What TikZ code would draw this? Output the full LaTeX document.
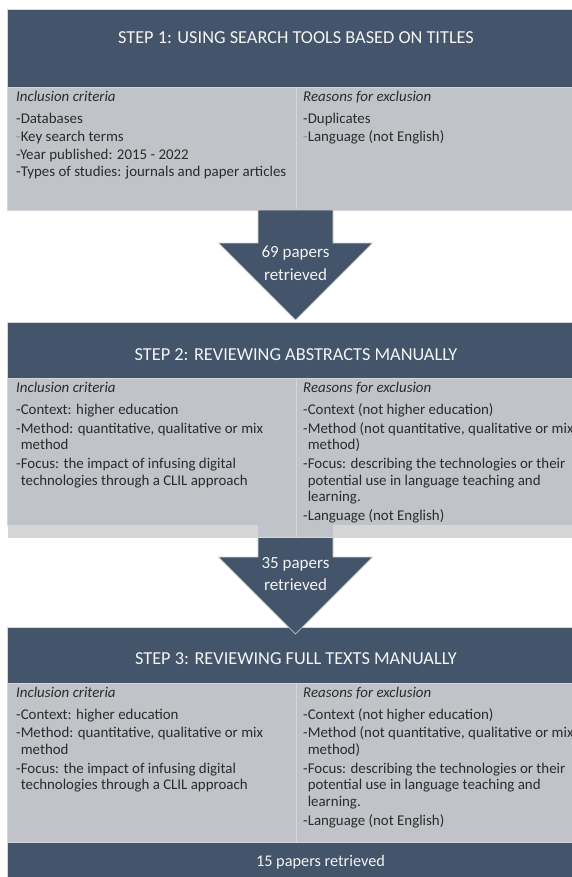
\documentclass[tikz,border=0pt]{standalone}
\usepackage{fontspec}
\setmainfont{Carlito}
\definecolor{hdr}{HTML}{44546A}
\definecolor{bodyg}{HTML}{C0C3C8}
\definecolor{stripg}{HTML}{D5D6D8}
\definecolor{txt}{HTML}{2B2B2B}
\definecolor{edgec}{HTML}{D3D6DA}
\definecolor{htxt}{HTML}{F4F4F4}
\definecolor{faint}{HTML}{8C8C8C}
\newcommand\hdgap{\\[5.4pt]}
\newcommand\nxt{\\[2.2pt]}
\newcommand\nxtone{\\[1pt]}
\newcommand\ind{\phantom{-}}
\begin{document}
\begin{tikzpicture}[x=1pt,y=-1pt,
  hdrbox/.style={fill=hdr,draw=edgec,line width=0.5pt},
  bodybox/.style={fill=bodyg,draw=edgec,line width=0.5pt},
  stripbox/.style={fill=stripg},
  divider/.style={draw=edgec,line width=0.8pt},
  hdrtext/.style={text=htxt,font=\fontsize{18.3}{22}\selectfont,inner sep=0pt,anchor=base},
  coltext/.style={text=txt,font=\fontsize{14.9}{16.6}\selectfont,inner sep=0pt,anchor=base west},
  arrowshape/.style={fill=hdr,draw=edgec,line width=0.6pt,line join=miter},
  arrtext/.style={text=htxt,font=\fontsize{17}{22}\selectfont,inner sep=0pt,anchor=base},
  bartext/.style={text=htxt,font=\fontsize{16.3}{20}\selectfont,inner sep=0pt,anchor=base},
]
\useasboundingbox (0,0) rectangle (572,877);
\clip (0,0) rectangle (572,877);
\fill[white] (0,0) rectangle (572,877);

% ---------- Step 1 ----------
\path[hdrbox] (7.5,9.5) rectangle (580,87);
\path[bodybox] (7.5,87) rectangle (580,210);
\draw[divider] (296,87.5) -- (296,209.5);
\node[hdrtext] (s1title) at (296,44) {STEP 1: USING SEARCH TOOLS BASED ON TITLES};
\node[coltext] (s1inc) at (16,102) {\parbox[t]{285pt}{\raggedright
  \textit{Inclusion criteria}\hdgap
  -Databases\nxtone
  \leavevmode{\color{faint}-}Key search terms\nxtone
  -Year published: 2015 - 2022\nxtone
  -Types of studies: journals and paper articles}};
\node[coltext] (s1exc) at (303,102) {\parbox[t]{285pt}{\raggedright
  \textit{Reasons for exclusion}\hdgap
  -Duplicates\nxtone
  \leavevmode{\color{faint}-}Language (not English)}};

% ---------- Arrow 1 ----------
\path[arrowshape] (258,210) -- (333,210) -- (333,243) -- (372.5,243) -- (295.5,320)
  -- (218.5,243) -- (258,243) -- cycle;
\node[arrtext] (a1l1) at (295.5,258) {69 papers};
\node[arrtext] (a1l2) at (295.5,280) {retrieved};

% ---------- Step 2 ----------
\path[hdrbox] (7.5,322.5) rectangle (580,378);
\path[bodybox] (7.5,378) rectangle (580,525);
\fill[stripg] (7.5,525) rectangle (580,537.5);
\fill[bodyg] (258,525) rectangle (333,537.5);
\draw[divider] (296,378.5) -- (296,537);
\node[hdrtext] (s2title) at (296,360) {STEP 2: REVIEWING ABSTRACTS MANUALLY};
\node[coltext] (s2inc) at (16,392.5) {\parbox[t]{285pt}{\raggedright
  \textit{Inclusion criteria}\hdgap
  -Context: higher education\nxt
  -Method: quantitative, qualitative or mix\\
  \ind method\nxt
  -Focus: the impact of infusing digital\\
  \ind technologies through a CLIL approach}};
\node[coltext] (s2exc) at (303,392.5) {\parbox[t]{285pt}{\raggedright
  \textit{Reasons for exclusion}\hdgap
  -Context (not higher education)\nxt
  -Method (not quantitative, qualitative or mix\\
  \ind method)\nxt
  -Focus: describing the technologies or their\\
  \ind potential use in language teaching and\\
  \ind learning.\nxt
  -Language (not English)}};

% ---------- Step 3 header (under arrow 2) ----------
\path[hdrbox] (7.5,627) rectangle (580,683);

% ---------- Arrow 2 ----------
\path[arrowshape] (258,537.5) -- (333,537.5) -- (333,557) -- (372.5,557) -- (295.5,634)
  -- (218.5,557) -- (258,557) -- cycle;
\node[arrtext] (a2l1) at (295.5,568) {35 papers};
\node[arrtext] (a2l2) at (295.5,590) {retrieved};

% ---------- Step 3 ----------
\node[hdrtext] (s3title) at (296,664) {STEP 3: REVIEWING FULL TEXTS MANUALLY};
\path[bodybox] (7.5,683) rectangle (580,842);
\draw[divider] (296,683.5) -- (296,841.5);
\node[coltext] (s3inc) at (16,697) {\parbox[t]{285pt}{\raggedright
  \textit{Inclusion criteria}\hdgap
  -Context: higher education\nxt
  -Method: quantitative, qualitative or mix\\
  \ind method\nxt
  -Focus: the impact of infusing digital\\
  \ind technologies through a CLIL approach}};
\node[coltext] (s3exc) at (303,697) {\parbox[t]{285pt}{\raggedright
  \textit{Reasons for exclusion}\hdgap
  -Context (not higher education)\nxt
  -Method (not quantitative, qualitative or mix\\
  \ind method)\nxt
  -Focus: describing the technologies or their\\
  \ind potential use in language teaching and\\
  \ind learning.\nxt
  -Language (not English)}};

% ---------- Result bar ----------
\path[hdrbox] (7.5,842) rectangle (580,885);
\node[bartext] (result) at (320.5,866) {15 papers retrieved};
\end{tikzpicture}
\end{document}
